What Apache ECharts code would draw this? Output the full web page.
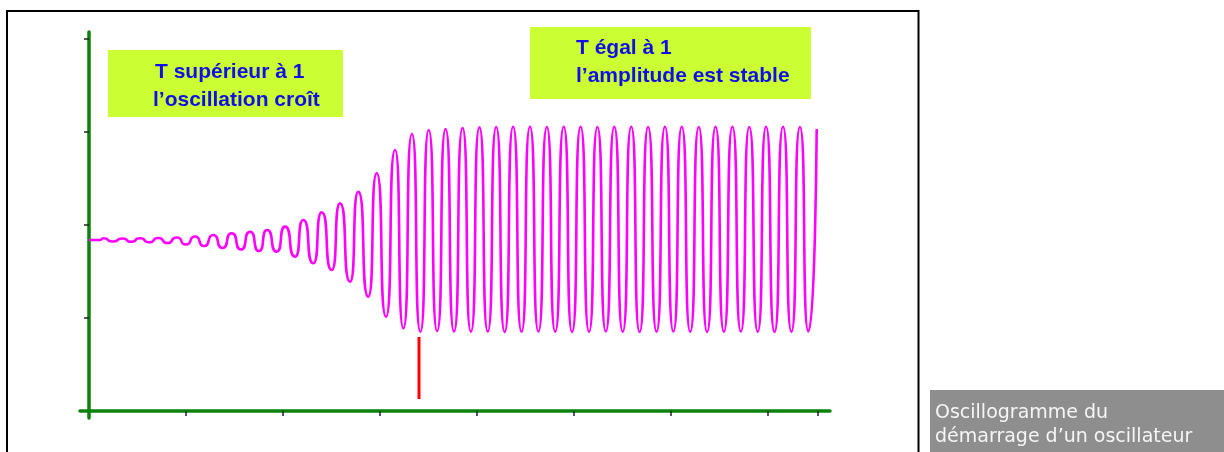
<!DOCTYPE html>
<html>
<head>
<meta charset="utf-8">
<script src="https://cdn.jsdelivr.net/npm/echarts@6/dist/echarts.min.js"></script>
<style>
html,body{margin:0;padding:0;background:#fff;}
#chart{width:1224px;height:452px;}
</style>
</head>
<body>
<div id="chart"></div>
<script>
// Time in screen divisions (1 = one x tick), level in divisions (1 = one y tick)
const waveTime = [0, 0.113,
  0.147, 0.242, 0.347, 0.433, 0.526, 0.619, 0.714, 0.809, 0.904, 1.000,
  1.093, 1.186, 1.281, 1.376, 1.471, 1.567, 1.660, 1.753, 1.835, 1.935,
  2.021, 2.124, 2.209, 2.312, 2.399, 2.502, 2.588, 2.691, 2.776, 2.879,
  2.966, 3.062, 3.155, 3.241, 3.329, 3.416, 3.502, 3.589, 3.676, 3.763,
  3.851, 3.937, 4.025, 4.111, 4.198, 4.285, 4.372, 4.459, 4.546, 4.633,
  4.720, 4.806, 4.894, 4.980, 5.068, 5.155, 5.241, 5.328, 5.415, 5.502,
  5.590, 5.676, 5.764, 5.851, 5.937, 6.024, 6.111, 6.198, 6.286, 6.372,
  6.459, 6.545, 6.633, 6.720, 6.807, 6.894, 6.980, 7.067, 7.155, 7.241,
  7.329, 7.416, 7.502];
const waveLevel = [1.839, 1.839,
  1.857, 1.823, 1.855, 1.820, 1.857, 1.814, 1.860, 1.806, 1.866, 1.790,
  1.876, 1.774, 1.892, 1.753, 1.911, 1.737, 1.928, 1.720, 1.946, 1.713,
  1.982, 1.659, 2.054, 1.588, 2.137, 1.516, 2.233, 1.390, 2.358, 1.229,
  2.556, 1.014, 2.806, 0.889, 2.978, 0.853, 3.022, 0.860, 3.032, 0.855,
  3.043, 0.852, 3.050, 0.855, 3.054, 0.849, 3.057, 0.852, 3.057, 0.855,
  3.054, 0.852, 3.057, 0.849, 3.057, 0.852, 3.054, 0.855, 3.057, 0.852,
  3.057, 0.849, 3.054, 0.852, 3.057, 0.855, 3.057, 0.852, 3.054, 0.849,
  3.057, 0.852, 3.057, 0.855, 3.054, 0.852, 3.057, 0.849, 3.057, 0.852,
  3.054, 0.855, 3.032];

const markerTime = [3.402, 3.402];
const markerLevel = [0.129, 0.796];

const xTickValues = [1, 2, 3, 4, 5, 6, 7, 7.515];
const yTickValues = [1, 2, 3, 4];

const boxLeftLines = ['T supérieur à 1', 'l’oscillation croît'];
const boxRightLines = ['T égal à 1', 'l’amplitude est stable'];
const captionLines = ['Oscillogramme du', 'démarrage d’un oscillateur'];

const waveData = waveTime.map((t, i) => [t, waveLevel[i]]);
const markerData = markerTime.map((t, i) => [t, markerLevel[i]]);

const chart = echarts.init(document.getElementById('chart'), null, {renderer: 'canvas'});

const boxFont = 'bold 21px "Liberation Sans", Arial, sans-serif';
const capFont = '19px "DejaVu Sans", sans-serif';

chart.setOption({
  backgroundColor: '#ffffff',
  animation: false,
  grid: {left: 80, right: 394, top: 32, bottom: 34, containLabel: false},
  xAxis: {
    type: 'value', min: -0.093, max: 7.639,
    axisLine: {show: true, onZero: true, lineStyle: {color: '#0b820b', width: 3.5}},
    axisTick: {show: true, customValues: xTickValues, length: 5, inside: false, lineStyle: {color: '#222', width: 1.5}},
    axisLabel: {show: false},
    splitLine: {show: false}
  },
  yAxis: {
    type: 'value', min: -0.075, max: 4.075,
    axisLine: {show: true, onZero: true, lineStyle: {color: '#0b820b', width: 3.5}},
    axisTick: {show: true, customValues: yTickValues, length: 5, inside: false, lineStyle: {color: '#222', width: 1.5}},
    axisLabel: {show: false},
    splitLine: {show: false}
  },
  series: [
    {
      type: 'line', data: waveData, smooth: 0.8, smoothMonotone: 'x', showSymbol: false,
      lineStyle: {color: '#ff00ff', width: 2.6}, z: 3
    },
    {
      type: 'line', data: markerData, showSymbol: false,
      lineStyle: {color: '#ff0000', width: 3}, z: 4
    }
  ],
  graphic: [
    {type: 'rect', shape: {x: 7, y: 11, width: 911.5, height: 470}, style: {fill: 'none', stroke: '#000', lineWidth: 2}, z: 10},
    {type: 'rect', shape: {x: 108, y: 50, width: 235, height: 67}, style: {fill: '#ccff33'}, z: 5},
    {type: 'text', x: 155, y: 72, style: {text: boxLeftLines[0], font: boxFont, fill: '#1010e6', verticalAlign: 'middle'}, z: 6},
    {type: 'text', x: 153, y: 100, style: {text: boxLeftLines[1], font: boxFont, fill: '#1010e6', verticalAlign: 'middle'}, z: 6},
    {type: 'rect', shape: {x: 530, y: 27, width: 281, height: 72}, style: {fill: '#ccff33'}, z: 5},
    {type: 'text', x: 576, y: 48, style: {text: boxRightLines[0], font: boxFont, fill: '#1010e6', verticalAlign: 'middle'}, z: 6},
    {type: 'text', x: 576, y: 76, style: {text: boxRightLines[1], font: boxFont, fill: '#1010e6', verticalAlign: 'middle'}, z: 6},
    {type: 'rect', shape: {x: 930, y: 390, width: 294, height: 62}, style: {fill: '#8e8e8e'}, z: 5},
    {type: 'text', x: 935, y: 413, style: {text: captionLines[0], font: capFont, fill: '#f6f6f6', verticalAlign: 'middle'}, z: 6},
    {type: 'text', x: 935, y: 437, style: {text: captionLines[1], font: capFont, fill: '#f6f6f6', verticalAlign: 'middle'}, z: 6}
  ]
});
</script>
</body>
</html>
